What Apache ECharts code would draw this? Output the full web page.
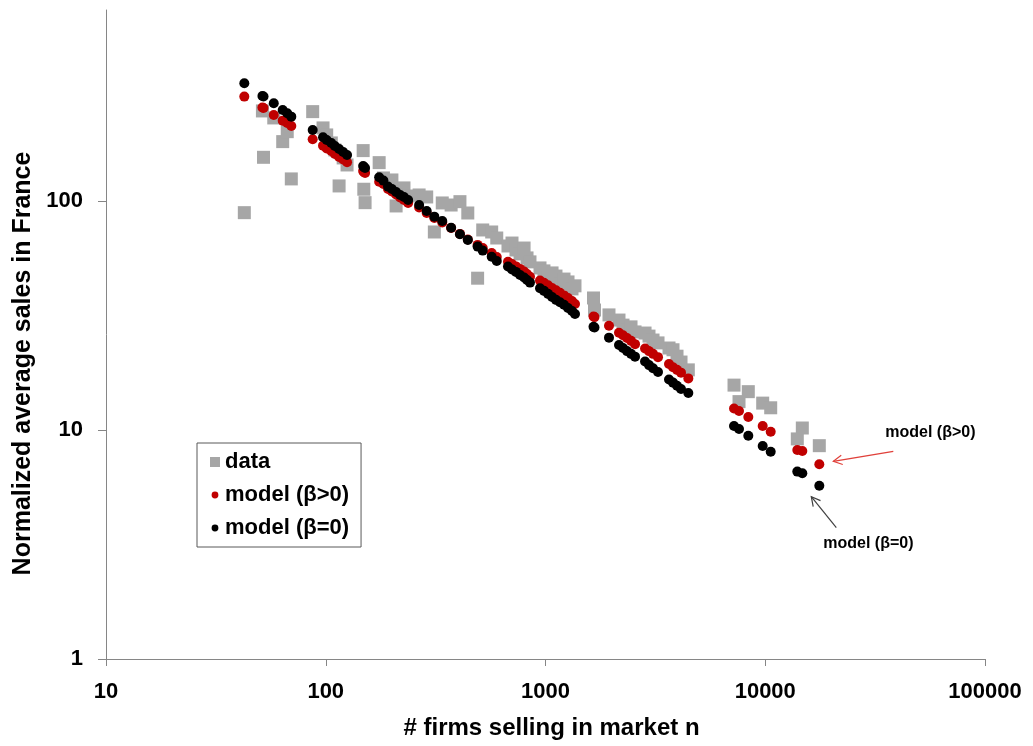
<!DOCTYPE html>
<html>
<head>
<meta charset="utf-8">
<script src="https://cdn.jsdelivr.net/npm/echarts@6/dist/echarts.min.js"></script>
<style>
  html, body { margin: 0; padding: 0; background: #ffffff; }
  #chart { width: 1033px; height: 746px; }
</style>
</head>
<body>
<div id="chart"></div>
<script>
// Number of firms selling in each destination market n
const firms = [42.6, 51.5, 52.1, 58.0, 63.7, 66.8, 69.7, 87.2, 97.2, 101, 106, 110, 115, 120, 125,
  148, 149, 151, 175, 183, 192, 200, 209, 218, 227, 237, 266, 288, 312, 339, 372, 408, 443, 491,
  518, 569, 600, 675, 704, 734, 766, 799, 824, 850, 944, 984, 1027, 1071, 1116, 1164, 1214, 1266,
  1320, 1362, 1654, 1671, 1945, 2160, 2253, 2349, 2450, 2555, 2838, 2958, 3085, 3251, 3648, 3804,
  3967, 4137, 4466, 7209, 7597, 8373, 9736, 10588, 13992, 14746, 17620];

// Observed normalized average sales in France
const dataSales = [88.9, 247.2, 155.1, 230.4, 181.6, 200.7, 124.8, 245.5, 208.4, 194.2, 179.2, 167.0,
  116.3, 154.1, 143.6, 165.9, 112.5, 98.3, 147.0, 126.0, 121.1, 123.5, 95.1, 111.7, 114.0, 105.1,
  106.2, 104.1, 73.2, 98.0, 96.0, 99.3, 88.6, 46.0, 74.7, 73.2, 68.9, 63.6, 65.5, 61.1, 58.7, 62.3,
  56.4, 54.2, 51.0, 49.5, 46.6, 48.5, 47.0, 43.4, 45.6, 44.3, 41.3, 42.6, 37.7, 33.4, 31.8, 30.2,
  28.7, 27.3, 28.2, 26.8, 26.5, 25.7, 24.7, 24.0, 22.8, 22.4, 21.0, 19.8, 18.3, 15.7, 13.3, 14.7,
  13.1, 12.5, 9.14, 10.2, 8.54];

// Model prediction with beta > 0
const modelPos = [285.5, 256.1, 254.8, 237.5, 224.2, 219.0, 212.6, 185.9, 174.4, 169.6, 165.3, 160.4,
  155.6, 151.8, 147.6, 135.2, 133.8, 132.6, 121.4, 118.6, 112.8, 110.0, 106.8, 103.6, 101.0, 98.0,
  93.7, 88.6, 84.3, 80.6, 76.2, 71.8, 67.9, 64.3, 62.3, 59.3, 56.9, 54.3, 53.1, 51.8, 50.5, 49.2,
  48.0, 46.7, 44.9, 43.9, 42.8, 41.7, 40.7, 39.7, 38.7, 37.7, 36.6, 35.5, 31.3, 31.1, 28.5, 26.6,
  25.9, 25.2, 24.5, 23.7, 22.7, 22.1, 21.5, 20.8, 19.4, 18.8, 18.3, 17.8, 16.8, 12.4, 12.1, 11.4,
  10.4, 9.83, 8.18, 8.09, 7.08];

// Model prediction with beta = 0
const modelZero = [326.6, 287.4, 286.0, 267.1, 249.7, 241.5, 233.4, 204.2, 189.7, 184.7, 179.2, 173.9,
  168.7, 163.7, 158.8, 142.2, 140.8, 139.4, 126.9, 122.7, 115.5, 112.8, 109.5, 106.2, 104.1, 101.0,
  96.1, 90.4, 85.4, 81.8, 76.4, 71.5, 67.6, 63.2, 60.7, 57.1, 54.7, 51.7, 50.2, 49.0, 47.5, 46.3,
  45.2, 44.0, 41.6, 40.5, 39.3, 38.1, 37.0, 36.1, 35.2, 34.1, 33.1, 32.1, 28.2, 28.0, 25.3, 23.5,
  22.8, 22.1, 21.5, 20.9, 19.9, 19.2, 18.6, 17.9, 16.6, 16.1, 15.6, 15.1, 14.5, 10.4, 10.1, 9.44,
  8.51, 8.04, 6.58, 6.47, 5.71];

const seriesNames = ['data', 'model (\u03b2>0)', 'model (\u03b2=0)'];
const yTicks = [1, 10, 100];
const xMin = 10, xMax = 100000, yMin = 1, yMax = 682;

const FONT = '"Liberation Sans", Arial, sans-serif';
const AXIS_GRAY = '#868686';

const pairs = ys => firms.map((f, i) => [f, ys[i]]);
const plainNumber = v => String(Math.round(v));
// small dot inside a 10x10 box for the legend keys of the model series
const smallDot = 'path://M0,0L0,0M10,10L10,10M5,1.6A3.4,3.4,0,1,1,4.99,1.6Z';

const chart = echarts.init(document.getElementById('chart'), null, { renderer: 'canvas' });

const option = {
  backgroundColor: '#ffffff',
  animation: false,
  grid: { left: 106, right: 48, top: 10, bottom: 87, outerBoundsMode: 'none' },
  xAxis: {
    type: 'log', logBase: 10, min: xMin, max: xMax,
    name: '# firms selling in market n',
    nameLocation: 'middle', nameGap: 57,
    nameTextStyle: { fontFamily: FONT, fontSize: 24, fontWeight: 'bold', color: '#000', padding: [0, 0, 0, 12] },
    axisLine: { show: true, onZero: false, lineStyle: { color: AXIS_GRAY, width: 1 } },
    axisTick: { show: true, inside: false, length: 7, lineStyle: { color: AXIS_GRAY } },
    axisLabel: { fontFamily: FONT, fontSize: 22, fontWeight: 'bold', color: '#000', margin: 22, formatter: plainNumber },
    splitLine: { show: false },
    minorTick: { show: false }
  },
  yAxis: {
    type: 'log', logBase: 10, min: yMin, max: yMax,
    name: 'Normalized average sales in France',
    nameLocation: 'middle', nameGap: 70, nameRotate: 90,
    nameTextStyle: { fontFamily: FONT, fontSize: 25, fontWeight: 'bold', color: '#000', padding: [0, 58, 0, 0] },
    axisLine: { show: true, onZero: false, lineStyle: { color: AXIS_GRAY, width: 1 } },
    axisTick: { show: true, inside: false, length: 8, customValues: yTicks, lineStyle: { color: AXIS_GRAY } },
    axisLabel: { fontFamily: FONT, fontSize: 22, fontWeight: 'bold', color: '#000', margin: 23, customValues: yTicks, formatter: plainNumber },
    splitLine: { show: false },
    minorTick: { show: false }
  },
  legend: {
    orient: 'vertical', left: 197, top: 443,
    itemWidth: 10, itemHeight: 10, itemGap: 11,
    padding: [8, 12, 8, 13],
    borderColor: '#595959', borderWidth: 1,
    backgroundColor: '#ffffff',
    selectedMode: false,
    textStyle: { fontFamily: FONT, fontSize: 22, fontWeight: 'bold', color: '#000', lineHeight: 22 },
    data: [
      { name: seriesNames[0], icon: 'rect' },
      { name: seriesNames[1], icon: smallDot },
      { name: seriesNames[2], icon: smallDot }
    ]
  },
  series: [
    {
      name: seriesNames[0], type: 'scatter', symbol: 'rect', symbolSize: 13,
      itemStyle: { color: '#A6A6A6', opacity: 1 }, data: pairs(dataSales), z: 2
    },
    {
      name: seriesNames[1], type: 'scatter', symbol: 'circle', symbolSize: 10,
      itemStyle: { color: '#C00000', opacity: 1 }, data: pairs(modelPos), z: 3
    },
    {
      name: seriesNames[2], type: 'scatter', symbol: 'circle', symbolSize: 10,
      itemStyle: { color: '#000000', opacity: 1 }, data: pairs(modelZero), z: 4
    }
  ]
};

chart.setOption(option);

// Callouts pointing at the largest market of each model series
function arrow(tail, tip, color) {
  const dx = tip[0] - tail[0], dy = tip[1] - tail[1];
  const len = Math.sqrt(dx * dx + dy * dy);
  const ux = dx / len, uy = dy / len;
  const head = 10, ang = 28 * Math.PI / 180;
  const c = Math.cos(ang), s = Math.sin(ang);
  const p1 = [tip[0] - head * (ux * c - uy * s), tip[1] - head * (uy * c + ux * s)];
  const p2 = [tip[0] - head * (ux * c + uy * s), tip[1] - head * (uy * c - ux * s)];
  return [
    { type: 'line', shape: { x1: tail[0], y1: tail[1], x2: tip[0], y2: tip[1] },
      style: { stroke: color, lineWidth: 1.2 }, z: 10 },
    { type: 'polyline', shape: { points: [p1, tip, p2] },
      style: { stroke: color, lineWidth: 1.2, fill: null }, z: 10 }
  ];
}

const last = firms.length - 1;
const pPos = chart.convertToPixel({ gridIndex: 0 }, [firms[last], modelPos[last]]);
const pZero = chart.convertToPixel({ gridIndex: 0 }, [firms[last], modelZero[last]]);
const calloutFont = 'bold 16px ' + FONT;

chart.setOption({
  graphic: [
    { type: 'text', left: pPos[0] + 66, top: pPos[1] - 40,
      style: { text: seriesNames[1], font: calloutFont, fill: '#000' }, z: 10 },
    ...arrow([pPos[0] + 74, pPos[1] - 13], [pPos[0] + 14, pPos[1] - 3], '#E0403A'),
    { type: 'text', left: pZero[0] + 4, top: pZero[1] + 50,
      style: { text: seriesNames[2], font: calloutFont, fill: '#000' }, z: 10 },
    ...arrow([pZero[0] + 17, pZero[1] + 42], [pZero[0] - 8, pZero[1] + 11], '#404040')
  ]
});
</script>
</body>
</html>
